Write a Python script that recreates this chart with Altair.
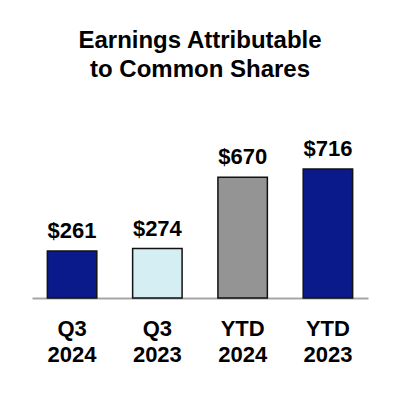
import altair as alt
import pandas as pd

categories = ["Q3|2024", "Q3|2023", "YTD|2024", "YTD|2023"]
values = [261, 274, 670, 716]
labels = ["$261", "$274", "$670", "$716"]
colors = ["#0a1a8a", "#d5eef3", "#949494", "#0a1a8a"]

df = pd.DataFrame({"cat": categories, "value": values, "label": labels})

FONT = "Liberation Sans"

x = alt.X(
    "cat:N",
    sort=categories,
    scale=alt.Scale(paddingInner=0.42, paddingOuter=0.18),
    axis=alt.Axis(
        title=None,
        labelExpr="split(datum.label, '|')",
        labelFont=FONT,
        labelFontSize=22,
        labelFontWeight="bold",
        labelColor="#000000",
        labelLineHeight=26,
        labelPadding=20,
        labelAngle=0,
        ticks=False,
        domainColor="#a6a6a6",
        domainWidth=2,
        grid=False,
    ),
)
y = alt.Y("value:Q", scale=alt.Scale(domain=[0, 1043], nice=False), axis=None)

bars = alt.Chart(df).mark_bar(stroke="#111111", strokeWidth=1.5).encode(
    x=x,
    y=y,
    color=alt.Color("cat:N", scale=alt.Scale(domain=categories, range=colors), legend=None),
)

text = alt.Chart(df).mark_text(
    font=FONT, fontSize=22, fontWeight="bold", color="#000000",
    baseline="alphabetic", dy=-13,
).encode(x=x, y=y, text="label:N")

chart = (
    alt.layer(bars, text)
    .properties(
        width=336,
        height=188,
        autosize=alt.AutoSizeParams(type="none"),
        padding={"left": 24, "top": 102, "right": 22, "bottom": 80},
        title=alt.TitleParams(
            text=["Earnings Attributable", "to Common Shares"],
            font=FONT,
            fontSize=24,
            fontWeight="bold",
            color="#000000",
            lineHeight=29,
            anchor="middle",
            offset=28,
        ),
    )
    .configure_view(stroke=None)
)

chart.save("out.html", embed_options={"renderer": "svg", "actions": False})
